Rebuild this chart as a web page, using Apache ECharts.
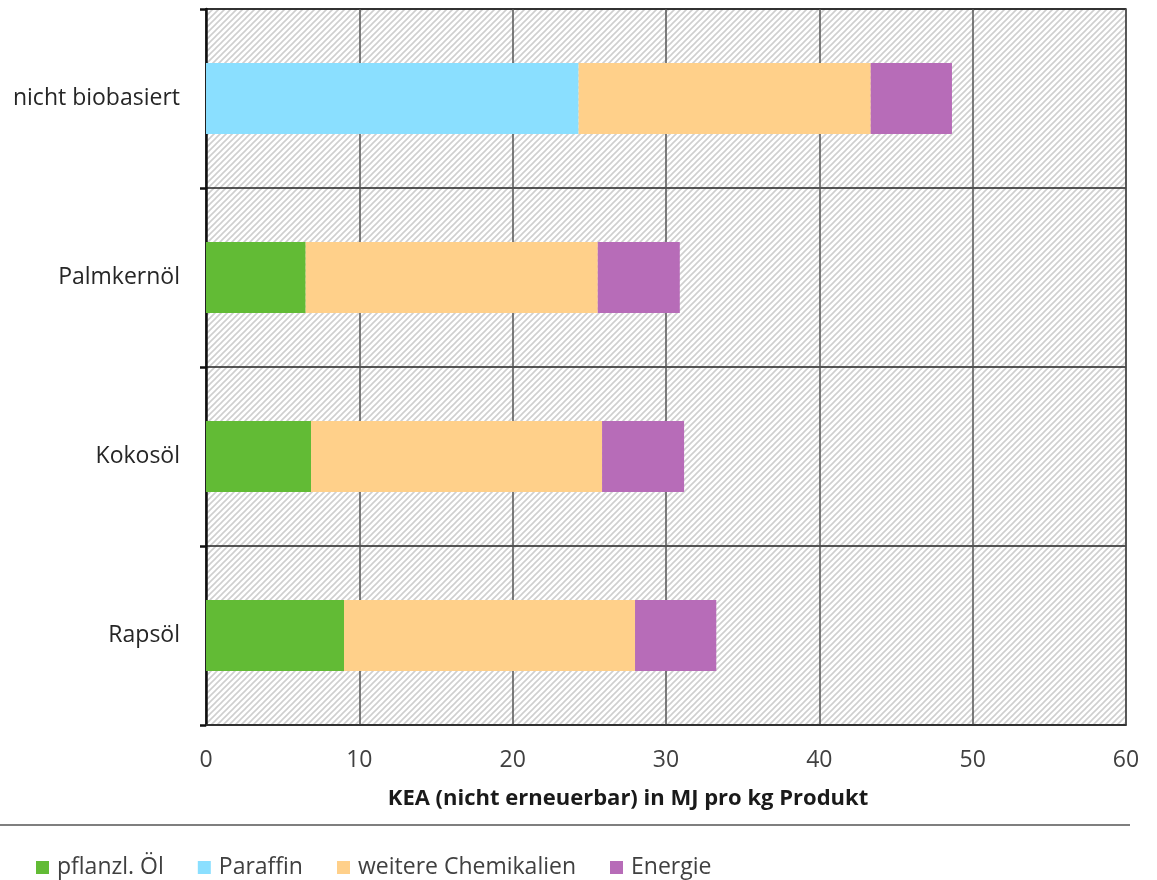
<!DOCTYPE html>
<html><head><meta charset="utf-8">
<script src="https://cdn.jsdelivr.net/npm/echarts@6/dist/echarts.min.js"></script>
<style>html,body{margin:0;padding:0;background:#fff}#c{width:1157px;height:880px}</style>
</head><body><div id="c"></div>
<script>
const categories = ['nicht biobasiert', 'Palmkernöl', 'Kokosöl', 'Rapsöl'];
const seriesNames = ['pflanzl. Öl', 'Paraffin', 'weitere Chemikalien', 'Energie'];
const pflanzlOel = [0, 6.5, 6.85, 9.0];
const paraffin = [24.3, 0, 0, 0];
const weitereChemikalien = [19.05, 19.05, 18.98, 18.98];
const energie = [5.3, 5.35, 5.35, 5.3];
const xTicks = [0, 10, 20, 30, 40, 50, 60];
const colors = ['#62BB35', '#8ADFFF', '#FFD08A', '#B76CB8'];

const pc = document.createElement('canvas');
pc.width = 6; pc.height = 6;
const g = pc.getContext('2d');
g.fillStyle = '#ffffff'; g.fillRect(0, 0, 6, 6);
g.strokeStyle = '#cfcfcf'; g.lineWidth = 1.6;
g.beginPath();
g.moveTo(-1, 7); g.lineTo(7, -1);
g.moveTo(-4, 4); g.lineTo(4, -4);
g.moveTo(2, 10); g.lineTo(10, 2);
g.stroke();

const FONT = '"Open Sans", sans-serif';
const chart = echarts.init(document.getElementById('c'), null, {renderer: 'canvas'});
const allData = [pflanzlOel, paraffin, weitereChemikalien, energie];
chart.setOption({
  animation: false,
  grid: {left: 206, right: 31, top: 9, bottom: 155, show: true,
    backgroundColor: {image: pc, repeat: 'repeat'}, borderColor: '#333', borderWidth: 1.5},
  legend: {
    left: 36, top: 856, padding: 0, itemWidth: 13, itemHeight: 13, itemGap: 34, itemStyle: {borderWidth: 0},
    icon: 'rect', data: seriesNames,
    textStyle: {fontFamily: FONT, fontSize: 23, color: '#404040', padding: [0, 0, 0, 3]}
  },
  xAxis: {
    type: 'value', min: xTicks[0], max: xTicks[xTicks.length - 1], interval: 10,
    axisLine: {show: true, lineStyle: {color: '#333', width: 1.5}},
    axisTick: {show: false},
    splitLine: {show: true, lineStyle: {color: '#555', width: 1.5}},
    axisLabel: {fontFamily: FONT, fontSize: 23, color: '#404040', margin: 24},
    name: 'KEA (nicht erneuerbar) in MJ pro kg Produkt',
    nameLocation: 'middle', nameGap: 63,
    nameTextStyle: {fontFamily: FONT, fontSize: 22, fontWeight: 'bold', color: '#1a1a1a', padding: [0, 76, 0, 0]}
  },
  yAxis: {
    type: 'category', data: categories, inverse: true,
    axisLine: {show: true, lineStyle: {color: '#111', width: 2.5}},
    axisTick: {show: true, length: 6, inside: false, lineStyle: {color: '#111', width: 2.5}},
    splitLine: {show: true, lineStyle: {color: '#222', width: 1.5}},
    axisLabel: {fontFamily: FONT, fontSize: 23, color: '#262626', margin: 26}
  },
  graphic: [{type: 'line', shape: {x1: 0, y1: 825, x2: 1130, y2: 825}, style: {stroke: '#555', lineWidth: 1.5}}],
  series: seriesNames.map((n, i) => ({
    name: n, type: 'bar', stack: 'total', barWidth: 71,
    itemStyle: {color: colors[i]},
    data: allData[i]
  }))
});
</script></body></html>
